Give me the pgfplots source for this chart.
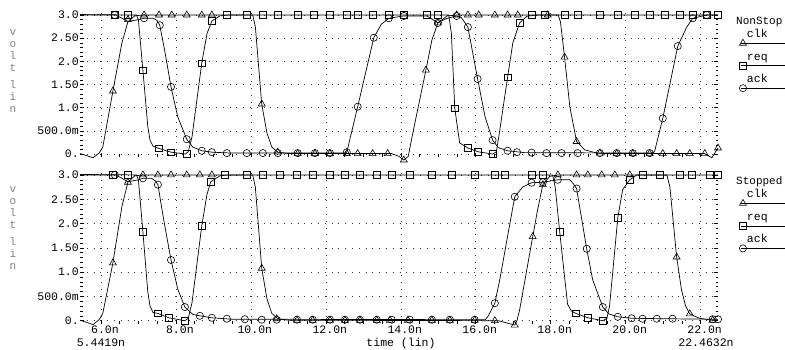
\documentclass[border=0pt]{standalone}
\usepackage{fontspec}
\setmainfont{Liberation Mono}
\usepackage{pgfplots}
\pgfplotsset{compat=1.18}
\newcommand{\tf}{\fontsize{11.5}{13}\selectfont}
\pgfplotsset{
 wave/.style={
  scale only axis, width=638pt,
  xmin=5.4419, xmax=22.4632, ymin=-0.06, ymax=3.05,
  clip=false,
  axis line style={draw=none},
  xtick={6,8,10,12,14,16,18,20,22},
  ytick={0,0.5,1,1.5,2,2.5,3},
  yticklabels={0.,500.0m,1.0,1.50,2.0,2.50,3.0},
  minor x tick num=3, minor y tick num=4,
  xtick pos=left, ytick pos=both,
  xmajorgrids, ymajorgrids,
  major grid style={black!80, line width=0.5pt, dash pattern=on 0.8pt off 6pt},
  tick style={black, line width=0.5pt},
  major tick length=4pt, minor tick length=2.5pt,
  tick label style={font=\tf},
  /pgf/number format/assume math mode=true,
  yticklabel style={inner sep=1pt},
  xticklabel style={xshift=4pt, yshift=-1.5pt, inner sep=1pt},
  legend style={draw=none, fill=none, inner sep=0pt, outer sep=0pt, row sep=12.5pt, column sep=3pt, font=\tf, nodes={inner sep=0pt, text height=8pt, text depth=2pt}},
  legend cell align=left,
 },
 ln/.style={line width=0.7pt, black, mark=none},
 mk/.style={only marks, black, mark options={solid, line width=0.6pt}},
 clkleg/.style={legend image code/.code={\path[draw=none,fill=none] (0pt,0pt) -- (3pt,0pt); \draw[overlay,line width=0.7pt] (0pt,-8.5pt) -- (60pt,-8.5pt); \draw[overlay,line width=0.6pt] plot[mark=triangle,mark size=4pt] coordinates {(2pt,-8.5pt)};}},
 reqleg/.style={legend image code/.code={\path[draw=none,fill=none] (0pt,0pt) -- (3pt,0pt); \draw[overlay,line width=0.7pt] (0pt,-8.5pt) -- (60pt,-8.5pt); \draw[overlay,line width=0.6pt] plot[mark=square,mark size=3.3pt] coordinates {(2pt,-8.5pt)};}},
 ackleg/.style={legend image code/.code={\path[draw=none,fill=none] (0pt,0pt) -- (3pt,0pt); \draw[overlay,line width=0.7pt] (0pt,-8.5pt) -- (60pt,-8.5pt); \draw[overlay,line width=0.6pt] plot[mark=o,mark size=3.6pt] coordinates {(2pt,-8.5pt)};}},
}
\begin{document}
\begin{tikzpicture}
\path[use as bounding box] (0,0) rectangle (785pt,349pt);
% ---------------- top panel: NonStop ----------------
\begin{axis}[wave, at={(80pt,192.2pt)}, anchor=south west, height=144.1pt,
  xticklabels={},
  legend style={at={(1.036,0.882)}, anchor=north west}]
\addplot[ln, clkleg] coordinates {(5.4419,0.01) (5.6,-0.03) (5.79,-0.08) (5.95,0.02) (6.05,0.15) (6.32,1.36) (6.56,2.4) (6.72,2.85) (6.9,2.98) (7.1,3.0) (10.05,3.0) (10.12,2.75) (10.29,1.08) (10.43,0.45) (10.56,0.15) (10.72,0.04) (11.0,0.01) (13.75,0.01) (13.95,-0.05) (14.08,-0.13) (14.2,-0.05) (14.32,0.45) (14.67,1.81) (14.83,2.46) (14.99,2.83) (15.23,2.98) (15.5,3.0) (18.2,3.0) (18.26,2.85) (18.37,2.09) (18.51,1.02) (18.69,0.27) (18.91,0.09) (19.23,0.02) (19.5,0.01) (22.1,0.01) (22.3,-0.08) (22.4632,0.13)};
\addlegendentry{clk}
\addplot[ln, reqleg] coordinates {(5.4419,3.01) (6.95,3.0) (7.0,2.9) (7.12,1.81) (7.25,0.6) (7.31,0.3) (7.39,0.17) (7.55,0.12) (7.87,0.04) (8.25,0.0) (8.33,0.05) (8.43,0.37) (8.69,1.96) (8.83,2.6) (8.96,2.87) (9.17,2.98) (9.4,3.0) (15.28,3.0) (15.35,2.6) (15.44,0.99) (15.57,0.24) (15.79,0.13) (16.05,0.05) (16.45,0.0) (16.55,0.05) (16.62,0.4) (16.85,1.66) (16.99,2.4) (17.17,2.83) (17.36,2.97) (17.6,3.0) (22.4632,3.0)};
\addlegendentry{req}
\addplot[ln, ackleg] coordinates {(5.4419,3.0) (6.4,3.0) (6.72,2.86) (7.0,2.9) (7.15,2.93) (7.4,2.93) (7.5,2.88) (7.57,2.78) (7.7,2.24) (7.87,1.45) (8.05,0.8) (8.29,0.32) (8.45,0.15) (8.69,0.07) (8.96,0.04) (9.5,0.02) (12.5,0.02) (12.56,0.04) (12.85,1.02) (13.28,2.51) (13.48,2.8) (13.68,2.93) (14.08,2.98) (14.7,2.98) (14.99,2.83) (15.2,2.92) (15.49,2.98) (15.62,2.94) (15.79,2.74) (16.05,1.62) (16.25,0.8) (16.45,0.3) (16.6,0.14) (16.85,0.07) (17.3,0.03) (20.7,0.02) (20.77,0.05) (20.99,0.77) (21.39,2.33) (21.63,2.74) (21.79,2.93) (22.16,3.0) (22.4632,3.0)};
\addlegendentry{ack}
\addplot[mk, mark=triangle, mark size=4pt, forget plot] coordinates {(6.32,1.36) (6.72,2.9) (7.15,3.0) (7.55,3.0) (7.89,3.0) (8.29,3.0) (8.69,3.0) (8.96,3.0) (10.29,1.08) (10.72,0.04) (11.25,0.01) (11.71,0.01) (12.11,0.01) (12.56,0.01) (12.85,0.01) (13.25,0.01) (13.65,0.01) (14.08,-0.13) (14.67,1.81) (14.99,2.83) (15.49,3.0) (15.79,3.0) (16.08,3.0) (16.51,3.0) (16.85,3.0) (17.12,3.0) (17.92,3.0) (18.37,2.09) (18.69,0.27) (19.31,0.02) (19.76,0.01) (20.19,0.01) (20.64,0.01) (20.99,0.01) (21.36,0.01) (21.71,0.01) (22.11,0.01) (22.4632,0.13)};
\addplot[mk, mark=square, mark size=3.3pt, forget plot] coordinates {(6.37,3.0) (6.72,3.0) (7.12,1.81) (7.55,0.12) (7.87,0.04) (8.29,0.0) (8.69,1.96) (8.96,2.87) (9.36,3.0) (9.89,3.0) (10.32,3.0) (10.72,3.0) (11.25,3.0) (11.68,3.0) (12.11,3.0) (12.56,3.0) (12.85,3.0) (13.25,3.0) (13.68,3.0) (14.08,3.0) (14.69,3.0) (14.99,3.0) (15.44,0.99) (15.79,0.13) (16.05,0.05) (16.45,0.0) (16.85,1.66) (17.17,2.83) (17.49,3.0) (17.84,3.0) (18.37,3.0) (18.72,3.0) (19.31,3.0) (19.79,3.0) (20.24,3.0) (20.64,3.0) (21.04,3.0) (21.44,3.0) (21.79,3.0) (22.16,3.0) (22.4632,3.0)};
\addplot[mk, mark=o, mark size=3.6pt, forget plot] coordinates {(6.37,3.0) (7.15,2.93) (7.57,2.78) (7.87,1.45) (8.29,0.32) (8.69,0.07) (8.96,0.04) (9.36,0.02) (9.89,0.02) (10.32,0.02) (10.72,0.02) (11.25,0.02) (11.71,0.02) (12.11,0.02) (12.56,0.04) (12.85,1.02) (13.28,2.51) (13.68,2.93) (14.08,2.98) (14.99,2.83) (15.49,2.98) (15.79,2.74) (16.05,1.62) (16.45,0.3) (16.85,0.07) (17.1,0.04) (17.49,0.03) (17.89,0.02) (18.29,0.02) (18.72,0.02) (19.31,0.02) (19.76,0.02) (20.19,0.02) (20.64,0.02) (20.99,0.77) (21.39,2.33) (21.79,2.93) (22.16,3.0)};
\end{axis}
% ---------------- bottom panel: Stopped ----------------
\begin{axis}[wave, at={(80pt,25.4pt)}, anchor=south west, height=151.1pt,
  xticklabels={6.0n,8.0n,10.0n,12.0n,14.0n,16.0n,18.0n,20.0n,22.0n},
  legend style={at={(1.036,0.885)}, anchor=north west}]
\addplot[ln, clkleg] coordinates {(5.4419,0.01) (5.6,-0.03) (5.79,-0.08) (5.95,0.02) (6.05,0.15) (6.32,1.19) (6.56,2.35) (6.72,2.85) (6.9,2.98) (7.1,3.0) (10.05,3.0) (10.12,2.75) (10.29,1.08) (10.43,0.45) (10.56,0.15) (10.72,0.04) (11.0,0.01) (16.6,0.0) (16.85,-0.05) (17.04,-0.09) (17.1,0.0) (17.17,0.22) (17.52,1.73) (17.65,2.28) (17.79,2.8) (17.97,2.97) (18.2,3.0) (21.1,3.0) (21.18,2.75) (21.36,1.31) (21.49,0.63) (21.6,0.3) (21.71,0.14) (21.97,0.05) (22.3,0.01) (22.4632,0.01)};
\addlegendentry{clk}
\addplot[ln, reqleg] coordinates {(5.4419,3.01) (6.95,3.0) (7.0,2.9) (7.12,1.83) (7.25,0.6) (7.31,0.3) (7.39,0.17) (7.52,0.15) (7.81,0.06) (8.24,0.0) (8.33,0.05) (8.43,0.37) (8.69,1.95) (8.83,2.6) (8.93,2.86) (9.17,2.98) (9.4,3.0) (18.05,3.0) (18.12,2.75) (18.24,1.83) (18.37,0.9) (18.45,0.34) (18.55,0.2) (18.67,0.15) (18.99,0.06) (19.39,0.0) (19.5,0.05) (19.57,0.3) (19.79,2.12) (19.92,2.7) (20.11,2.9) (20.3,3.0) (22.4632,3.0)};
\addlegendentry{req}
\addplot[ln, ackleg] coordinates {(5.4419,3.0) (6.4,3.0) (6.72,2.86) (7.0,2.9) (7.12,2.93) (7.35,2.93) (7.45,2.88) (7.52,2.8) (7.67,2.1) (7.87,1.25) (8.05,0.65) (8.24,0.28) (8.45,0.13) (8.64,0.1) (8.96,0.06) (9.5,0.03) (16.25,0.02) (16.32,0.08) (16.51,0.36) (16.64,0.84) (17.04,2.55) (17.25,2.75) (17.49,2.84) (17.79,2.85) (18.19,2.9) (18.51,2.9) (18.6,2.82) (18.69,2.72) (18.96,1.48) (19.12,0.84) (19.39,0.28) (19.55,0.14) (19.79,0.08) (20.16,0.05) (21.0,0.04) (22.4632,0.03)};
\addlegendentry{ack}
\addplot[mk, mark=triangle, mark size=4pt, forget plot] coordinates {(6.32,1.19) (6.72,2.85) (7.12,3.0) (7.52,3.0) (7.87,3.0) (8.29,3.0) (8.64,3.0) (8.96,3.0) (10.29,1.08) (10.69,0.04) (11.23,0.01) (11.65,0.01) (12.11,0.01) (12.51,0.01) (12.91,0.01) (13.36,0.01) (13.71,0.01) (14.19,0.01) (14.83,0.01) (15.31,0.01) (15.97,0.01) (16.51,0.0) (17.04,-0.09) (17.52,1.73) (17.79,2.8) (18.19,3.0) (18.69,3.0) (18.99,3.0) (19.36,3.0) (19.71,3.0) (20.11,3.0) (21.36,1.31) (21.71,0.14) (22.32,0.01)};
\addplot[mk, mark=square, mark size=3.3pt, forget plot] coordinates {(6.32,3.0) (6.72,3.0) (7.12,1.83) (7.52,0.15) (7.81,0.06) (8.24,0.0) (8.69,1.95) (8.93,2.86) (9.31,3.0) (9.89,3.0) (10.32,3.0) (10.77,3.0) (11.23,3.0) (11.65,3.0) (12.11,3.0) (12.51,3.0) (12.91,3.0) (13.36,3.0) (13.76,3.0) (14.24,3.0) (14.83,3.0) (15.36,3.0) (15.97,3.0) (16.51,3.0) (16.77,3.0) (17.49,3.0) (17.79,3.0) (18.24,1.83) (18.67,0.15) (18.99,0.06) (19.39,0.0) (19.79,2.12) (20.11,2.9) (20.45,3.0) (20.91,3.0) (21.44,3.0) (21.76,3.0) (22.24,3.0) (22.4632,3.0)};
\addplot[mk, mark=o, mark size=3.6pt, forget plot] coordinates {(6.37,3.0) (7.12,2.93) (7.52,2.8) (7.87,1.25) (8.24,0.28) (8.64,0.1) (8.96,0.06) (9.36,0.04) (9.84,0.03) (10.29,0.02) (10.69,0.02) (11.23,0.02) (11.65,0.02) (12.11,0.02) (12.51,0.02) (12.91,0.02) (13.36,0.02) (13.76,0.02) (14.24,0.02) (14.83,0.02) (15.31,0.02) (15.97,0.02) (16.51,0.36) (17.04,2.55) (17.49,2.84) (17.79,2.85) (18.19,2.9) (18.69,2.72) (18.96,1.48) (19.39,0.28) (19.79,0.08) (20.16,0.05) (20.45,0.04) (20.83,0.04) (21.25,0.04) (22.32,0.03) (22.4632,0.03)};
\end{axis}
% ---------------- texts ----------------
\node[anchor=west, font=\fontsize{11}{12}\selectfont, inner sep=0pt] at (736pt,327pt) {NonStop};
\node[anchor=west, font=\fontsize{11}{12}\selectfont, inner sep=0pt] at (736pt,167pt) {Stopped};
\node[align=center, font=\fontsize{11}{12}\selectfont, text=black!50, inner sep=0pt] at (13pt,278pt) {v\\o\\l\\t\\[5pt]l\\i\\n};
\node[align=center, font=\fontsize{11}{12}\selectfont, text=black!50, inner sep=0pt] at (13pt,121pt) {v\\o\\l\\t\\[5pt]l\\i\\n};
\node[font=\tf, inner sep=0pt, anchor=base] at (401pt,2.5pt) {time (lin)};
\node[font=\tf, inner sep=0pt, anchor=base] at (101pt,2.5pt) {5.4419n};
\node[font=\tf, inner sep=0pt, anchor=base] at (706pt,2.5pt) {22.4632n};
\end{tikzpicture}
\end{document}
